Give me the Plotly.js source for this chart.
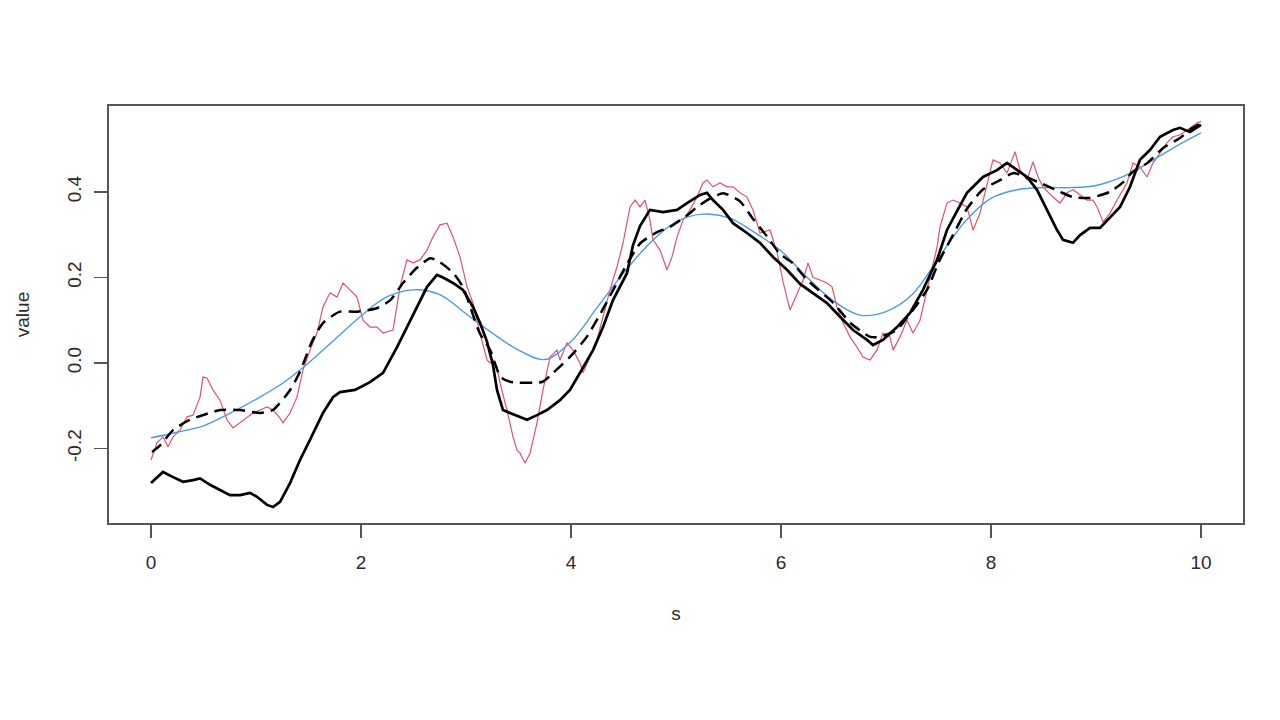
<!DOCTYPE html>
<html>
<head>
<meta charset="utf-8">
<script src="https://cdn.plot.ly/plotly-3.0.1.min.js"></script>
<style>html,body{margin:0;padding:0;background:#fff;}#chart{width:1280px;height:720px;}</style>
</head>
<body>
<div id="chart"></div>
<script>
// Smooth (blue) curve
const blueS = [0,0.25,0.5,0.75,1.0,1.25,1.5,1.75,2.0,2.25,2.5,2.75,3.0,3.25,3.5,3.75,4.0,4.25,4.5,4.75,5.0,5.25,5.5,5.75,6.0,6.25,6.5,6.75,7.0,7.25,7.5,7.75,8.0,8.25,8.5,8.75,9.0,9.25,9.5,9.75,10];
const blueV = [-0.175,-0.162,-0.147,-0.118,-0.085,-0.048,0.0,0.055,0.11,0.155,0.171,0.16,0.115,0.07,0.03,0.008,0.05,0.13,0.21,0.28,0.33,0.348,0.34,0.305,0.262,0.2,0.145,0.112,0.12,0.16,0.245,0.33,0.385,0.405,0.41,0.41,0.415,0.435,0.468,0.505,0.538];

// Dashed black curve
const dashS = [0.01,0.09,0.21,0.37,0.66,0.85,1.04,1.16,1.32,1.42,1.54,1.64,1.8,1.96,2.15,2.28,2.4,2.53,2.66,2.75,2.88,2.97,3.13,3.23,3.33,3.42,3.73,3.83,3.99,4.15,4.28,4.4,4.53,4.66,4.82,4.94,5.13,5.2,5.35,5.45,5.61,5.73,5.87,5.99,6.11,6.25,6.5,6.66,6.85,6.94,7.1,7.26,7.39,7.51,7.64,7.77,7.92,8.09,8.21,8.47,8.66,8.78,8.94,9.13,9.26,9.35,9.49,9.64,9.8,9.92,10];
const dashV = [-0.208,-0.192,-0.157,-0.133,-0.11,-0.11,-0.117,-0.11,-0.065,-0.02,0.054,0.094,0.12,0.12,0.128,0.147,0.187,0.222,0.245,0.236,0.21,0.178,0.07,0.03,-0.033,-0.044,-0.044,-0.023,0.014,0.061,0.115,0.17,0.23,0.28,0.306,0.318,0.35,0.365,0.388,0.397,0.378,0.338,0.295,0.255,0.234,0.194,0.14,0.094,0.061,0.061,0.077,0.125,0.171,0.24,0.3,0.36,0.405,0.428,0.444,0.421,0.4,0.388,0.386,0.4,0.423,0.447,0.468,0.503,0.526,0.55,0.561];

// Solid black curve
const solidS = [0,0.114,0.21,0.305,0.4,0.467,0.562,0.657,0.752,0.848,0.943,1.01,1.105,1.162,1.229,1.324,1.419,1.514,1.638,1.733,1.8,1.943,2.086,2.21,2.343,2.438,2.533,2.629,2.724,2.781,2.876,2.971,3.067,3.133,3.2,3.257,3.295,3.352,3.419,3.514,3.581,3.676,3.771,3.895,3.99,4.086,4.21,4.305,4.4,4.533,4.59,4.657,4.752,4.876,5.01,5.105,5.229,5.295,5.352,5.448,5.543,5.676,5.8,5.924,6.057,6.181,6.305,6.438,6.562,6.686,6.819,6.876,6.971,7.105,7.229,7.352,7.486,7.581,7.676,7.771,7.924,8.057,8.152,8.248,8.343,8.438,8.533,8.629,8.686,8.781,8.848,8.943,9.038,9.105,9.229,9.324,9.419,9.514,9.61,9.733,9.8,9.895,10];
const solidV = [-0.281,-0.255,-0.267,-0.278,-0.274,-0.27,-0.285,-0.297,-0.309,-0.309,-0.304,-0.313,-0.332,-0.337,-0.325,-0.281,-0.227,-0.18,-0.117,-0.08,-0.068,-0.063,-0.045,-0.023,0.037,0.084,0.131,0.178,0.206,0.2,0.187,0.171,0.131,0.094,0.05,-0.005,-0.063,-0.11,-0.117,-0.126,-0.133,-0.122,-0.11,-0.087,-0.063,-0.023,0.03,0.084,0.147,0.21,0.275,0.32,0.358,0.353,0.358,0.374,0.393,0.398,0.381,0.358,0.327,0.304,0.281,0.248,0.218,0.185,0.164,0.14,0.108,0.077,0.054,0.042,0.054,0.084,0.117,0.171,0.241,0.311,0.355,0.398,0.435,0.451,0.468,0.451,0.435,0.405,0.358,0.311,0.288,0.281,0.299,0.316,0.316,0.334,0.365,0.412,0.475,0.498,0.529,0.545,0.55,0.54,0.557];

// Noisy (red) curve
const redS = [0,0.057,0.114,0.162,0.21,0.276,0.343,0.4,0.467,0.495,0.533,0.59,0.657,0.724,0.781,0.848,0.914,0.971,1.038,1.105,1.162,1.229,1.257,1.324,1.39,1.448,1.514,1.581,1.638,1.705,1.771,1.829,1.895,1.962,2.019,2.086,2.152,2.21,2.305,2.371,2.438,2.495,2.562,2.629,2.686,2.752,2.819,2.876,2.943,3.01,3.067,3.133,3.2,3.229,3.257,3.295,3.324,3.39,3.448,3.486,3.514,3.562,3.61,3.676,3.733,3.8,3.867,3.895,3.962,4.019,4.086,4.114,4.181,4.248,4.305,4.371,4.438,4.495,4.562,4.61,4.657,4.705,4.752,4.781,4.848,4.914,4.962,5.01,5.067,5.133,5.2,5.257,5.295,5.352,5.419,5.486,5.543,5.61,5.676,5.733,5.8,5.895,5.962,6.019,6.086,6.152,6.21,6.257,6.305,6.371,6.438,6.486,6.533,6.59,6.657,6.724,6.781,6.848,6.914,6.971,7.038,7.067,7.133,7.2,7.257,7.324,7.39,7.486,7.514,7.581,7.638,7.705,7.771,7.829,7.895,7.962,8.019,8.086,8.152,8.2,8.229,8.276,8.343,8.4,8.448,8.495,8.59,8.657,8.724,8.781,8.848,8.914,8.971,9.01,9.067,9.133,9.2,9.295,9.352,9.419,9.486,9.543,9.61,9.676,9.733,9.8,9.867,9.962,10];
const redV = [-0.227,-0.187,-0.173,-0.196,-0.173,-0.157,-0.126,-0.122,-0.08,-0.033,-0.035,-0.063,-0.087,-0.133,-0.152,-0.14,-0.126,-0.117,-0.11,-0.103,-0.11,-0.129,-0.14,-0.117,-0.08,-0.016,0.03,0.07,0.131,0.164,0.154,0.187,0.171,0.154,0.1,0.084,0.084,0.07,0.077,0.178,0.241,0.234,0.241,0.264,0.295,0.323,0.327,0.295,0.248,0.178,0.14,0.07,0.007,0.0,0.007,-0.009,-0.047,-0.11,-0.173,-0.204,-0.211,-0.234,-0.211,-0.14,-0.063,0.014,0.03,0.007,0.047,0.03,0.0,-0.023,0.014,0.054,0.108,0.171,0.225,0.28,0.365,0.381,0.365,0.381,0.334,0.288,0.264,0.218,0.248,0.295,0.334,0.358,0.388,0.421,0.428,0.412,0.421,0.412,0.412,0.398,0.388,0.358,0.304,0.311,0.26,0.19,0.124,0.16,0.194,0.234,0.2,0.194,0.187,0.178,0.131,0.094,0.061,0.037,0.014,0.007,0.03,0.07,0.061,0.03,0.061,0.1,0.07,0.1,0.171,0.271,0.318,0.374,0.381,0.374,0.365,0.311,0.35,0.421,0.475,0.468,0.444,0.475,0.494,0.451,0.428,0.47,0.435,0.412,0.388,0.374,0.398,0.405,0.393,0.381,0.381,0.365,0.33,0.35,0.381,0.421,0.468,0.458,0.435,0.468,0.491,0.515,0.529,0.533,0.545,0.561,0.565];

const xTicks = [0,2,4,6,8,10];
const yTicks = [-0.2,0.0,0.2,0.4];
const yTickText = ["-0.2","0.0","0.2","0.4"];

const traces = [
  {x: redS, y: redV, type: 'scatter', mode: 'lines', line: {color: '#D9566E', width: 1.2}, hoverinfo: 'skip'},
  {x: blueS, y: blueV, type: 'scatter', mode: 'lines', line: {color: '#4F98E3', width: 1.4, shape: 'spline', smoothing: 1}, hoverinfo: 'skip'},
  {x: solidS, y: solidV, type: 'scatter', mode: 'lines', line: {color: '#000000', width: 2.7}, hoverinfo: 'skip'},
  {x: dashS, y: dashV, type: 'scatter', mode: 'lines', line: {color: '#000000', width: 2.5, dash: '12px,7px', shape: 'spline', smoothing: 0.6}, hoverinfo: 'skip'}
];

const fontFam = 'Liberation Sans, Arial, Helvetica, sans-serif';
const txtColor = '#2b2b2b';
const layout = {
  width: 1280, height: 720,
  paper_bgcolor: '#ffffff', plot_bgcolor: '#ffffff',
  showlegend: false,
  margin: {l: 109, r: 37, t: 106, b: 197, pad: 0},
  font: {family: fontFam, size: 19, color: txtColor},
  xaxis: {
    range: [-0.4, 10.4], tickvals: xTicks, ticktext: xTicks.map(String),
    ticks: 'outside', ticklen: 13, tickwidth: 1.5, tickcolor: '#555555',
    showline: true, mirror: true, linecolor: '#555555', linewidth: 1.6,
    showgrid: false, zeroline: false, automargin: false,
    tickfont: {family: fontFam, size: 19, color: txtColor},
    ticklabelstandoff: 9,
    title: {text: 's', font: {family: fontFam, size: 19, color: txtColor}, standoff: 34}
  },
  yaxis: {
    range: [-0.3743, 0.601], tickvals: yTicks, ticktext: yTickText,
    ticks: 'outside', ticklen: 13, tickwidth: 1.5, tickcolor: '#555555',
    showline: true, mirror: true, linecolor: '#555555', linewidth: 1.6,
    showgrid: false, zeroline: false, automargin: false,
    tickangle: -90,
    tickfont: {family: fontFam, size: 19, color: txtColor},
    ticklabelstandoff: 6,
    title: {text: 'value', font: {family: fontFam, size: 19, color: txtColor}, standoff: 29}
  }
};

Plotly.newPlot('chart', traces, layout, {staticPlot: true, displayModeBar: false});
</script>
</body>
</html>
